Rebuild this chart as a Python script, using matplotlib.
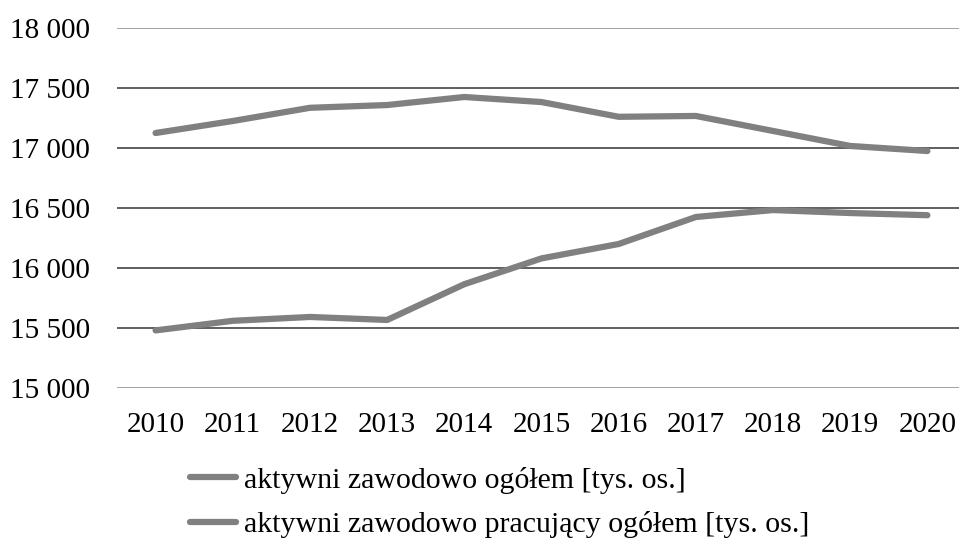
import matplotlib.pyplot as plt
from matplotlib.ticker import FuncFormatter

plt.rcParams['font.family'] = ['Liberation Serif', 'DejaVu Serif']

lata = ['2010', '2011', '2012', '2013', '2014', '2015', '2016', '2017', '2018', '2019', '2020']
aktywni = [17125, 17225, 17335, 17358, 17425, 17383, 17260, 17267, 17142, 17017, 16975]
pracujacy = [15480, 15560, 15592, 15567, 15865, 16080, 16200, 16425, 16483, 16458, 16440]
etykiety = ['aktywni zawodowo ogółem [tys. os.]',
            'aktywni zawodowo pracujący ogółem [tys. os.]']
yticks = [15000, 15500, 16000, 16500, 17000, 17500, 18000]

fig = plt.figure(figsize=(9.59, 5.39), dpi=100)
ax = fig.add_axes([117/959, 1-388/539, (966-117)/959, 360/539])

# linie siatki - skrajne jasniejsze
for v in yticks:
    c = '#8a8a8a' if v in (15000, 18000) else '#333333'
    ax.axhline(v, color=c, lw=1.1, zorder=1)

x = range(len(lata))
ax.plot(x, aktywni, color='#808080', lw=4.5, label=etykiety[0], zorder=3,
        solid_capstyle='round')
ax.plot(x, pracujacy, color='#808080', lw=4.5, label=etykiety[1], zorder=3,
        solid_capstyle='round')

ax.set_xlim(-0.5, len(lata) - 0.5)
ax.set_ylim(15000, 18000)
ax.set_xticks(list(x))
ax.set_xticklabels(lata)
ax.set_yticks(yticks)
ax.yaxis.set_major_formatter(FuncFormatter(lambda v, p: f'{int(v):,}'.replace(',', ' ')))
ax.tick_params(length=0, labelsize=21)
ax.tick_params(axis='y', pad=19.5)
ax.tick_params(axis='x', pad=17)
for s in ax.spines.values():
    s.set_visible(False)

fig.legend(loc='upper left', bbox_to_anchor=(175/959, 1-452/539), frameon=False,
           fontsize=21.5, handlelength=1.55, handletextpad=0.26, labelspacing=0.58,
           borderpad=0)

fig.savefig('out.png', dpi=100)
